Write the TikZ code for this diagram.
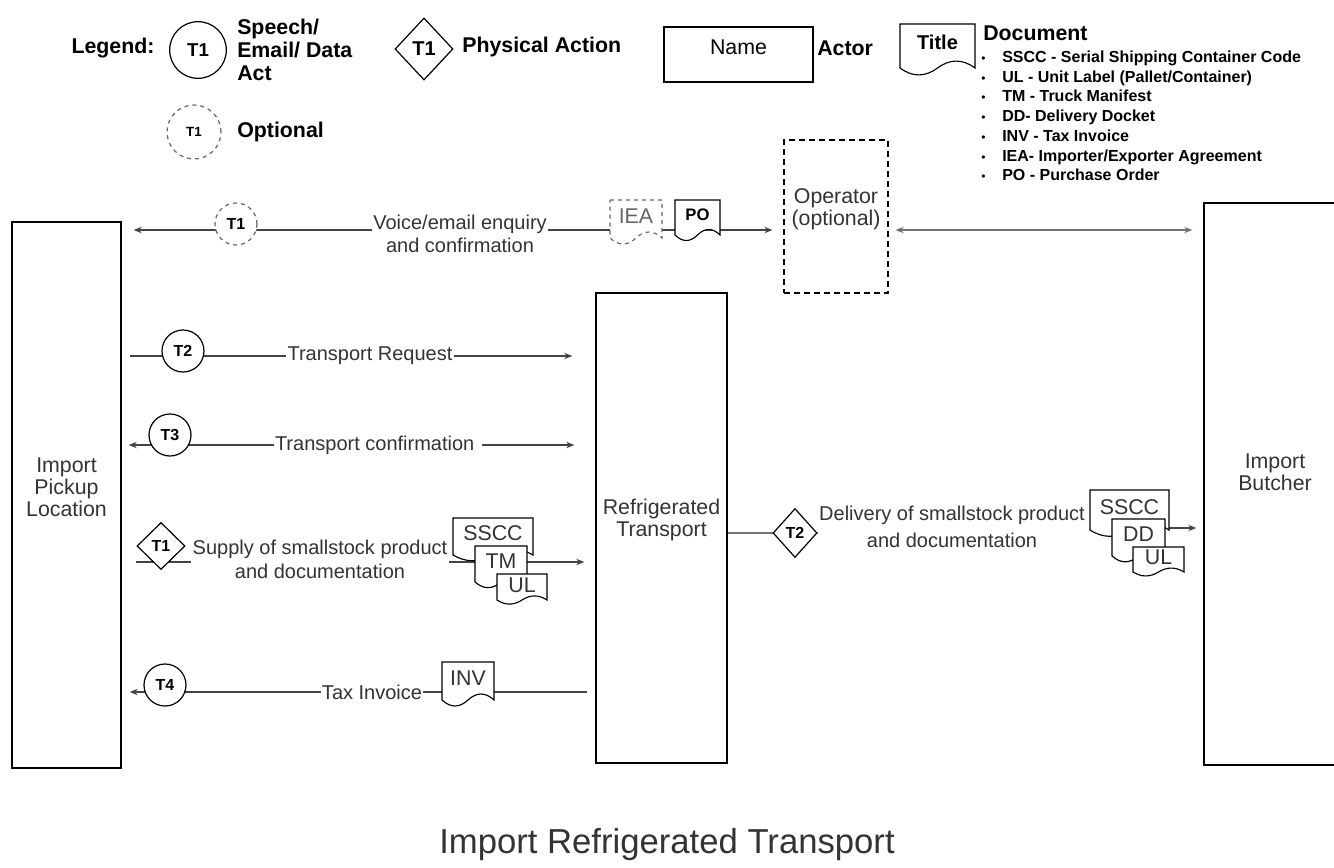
\documentclass[tikz,border=0pt]{standalone}
\usepackage{fontspec}
\setmainfont{Liberation Sans}
\usetikzlibrary{shapes.geometric,arrows.meta,calc,fit,backgrounds}
\definecolor{txt}{HTML}{333333}
\definecolor{lnc}{HTML}{444444}
\definecolor{dsh}{HTML}{666666}
\newcommand\fsz[2]{\fontsize{#1}{#2}\selectfont}
% [outline opts]{name}{x1}{top}{x2}{side end}{text opts}{text}
\newcommand\docnode[8][]{%
  \path[docline,#1] (#3,#4) -- (#5,#4) -- (#5,#6)
    .. controls ({#5-(#5-#3)/6},{#6-0.21*(#6-#4)}) and ({#3+2*(#5-#3)/3},{#6-0.21*(#6-#4)}) .. ({(#3+#5)/2},#6)
    .. controls ({(#3+#5)/2-(#5-#3)/6},{#6+0.21*(#6-#4)}) and ({#3+(#5-#3)/6},{#6+0.21*(#6-#4)}) .. (#3,#6) -- cycle;
  \node[docframe, fit={(#3,#4)(#5,#6)}] (#2) {};
  \node[doctext,#7] (#2-t) at ($(#2.north)!0.42!(#2.south)$) {#8};
}
\begin{document}
\begin{tikzpicture}[x=0.75pt,y=-0.75pt,
  >={Stealth[length=6pt,width=4.8pt]},
  every node/.style={text=txt},
  lbl/.style={font=\fsz{15}{17}, fill=white, inner sep=1pt, align=center},
  actor/.style={draw=black, line width=1.1pt, inner sep=0pt, align=center, font=\fsz{16}{16.5}},
  actortext/.style={align=center, font=\fsz{16}{16.5}, inner sep=0pt},
  conn/.style={draw=lnc, line width=0.85pt},
  speech/.style={circle, draw=black, line width=0.9pt, fill=white, inner sep=0pt, minimum size=31.5pt, text=black, font=\bfseries\fsz{12}{12}},
  optspeech/.style={speech, draw=dsh, dash pattern=on 3pt off 3pt},
  phys/.style={diamond, draw=black, line width=0.9pt, fill=white, inner sep=0pt, text=black, font=\bfseries\fsz{12}{12}},
  docline/.style={draw=black, line width=0.85pt, fill=white},
  docframe/.style={inner sep=0pt, draw=none},
  doctext/.style={inner sep=0pt, font=\fsz{16}{16}},
  legtext/.style={text=black, font=\bfseries\fsz{16}{17}, inner sep=0pt},
  listitem/.style={text=black, font=\bfseries\fsz{12}{12}, inner sep=0pt, anchor=base west},
]
\useasboundingbox (0,0) rectangle (1334,867);
\clip (0,0) rectangle (1334,867);

% ---------- legend ----------
\node[legtext] (legend) at (113,48) {Legend:};
\node[speech, minimum size=42.5pt, font=\bfseries\fsz{14}{14}] (legc) at (198,50) {T1};
\node[legtext, align=left, anchor=west] (legct) at (237,50) {Speech/\\Email/ Data\\Act};
\node[phys, minimum width=43.5pt, minimum height=46.5pt, font=\bfseries\fsz{15}{15}] (legd) at (424,49) {T1};
\node[legtext, anchor=west] (legdt) at (462,47) {Physical Action};
\node[draw=black, line width=0.9pt, inner sep=0pt, fit={(664,27)(813,82)}, font=\fsz{16}{16}, text=black] (legn) {Name};
\node[legtext, anchor=west] (legnt) at (817,48) {Actor};
\docnode{legdoc}{900}{24}{975}{68}{font=\bfseries\fsz{15}{15}, text=black}{Title}
\node[legtext, anchor=west] (legdoct) at (983,33) {Document};
\foreach \itm [count=\i] in {SSCC - Serial Shipping Container Code, UL - Unit Label (Pallet/Container), TM - Truck Manifest, DD- Delivery Docket, INV - Tax Invoice, IEA- Importer/Exporter Agreement, PO - Purchase Order}
  \node[listitem] (li\i) at (981,{62.5+19.7*(\i-1)}) {\makebox[15.75pt][l]{\normalfont\fsz{9}{9}\textbullet}\itm};
\node[optspeech, minimum size=40.5pt, font=\bfseries\fsz{10}{10}] (lego) at (194,132) {T1};
\node[legtext, anchor=west] (legot) at (237,132) {Optional};

% ---------- actors ----------
\node[actor, fit={(12,222)(121,768)}] (ipl) {Import\\Pickup\\Location};
\node[actor, fit={(596,293)(727,763)}] (rt) {Refrigerated\\Transport};
\node[actor, fit={(1204,203)(1350,765)}] (ib) {};
\node[actortext] (ibt) at (1275,472) {Import\\Butcher};
\node[actor, line width=0.9pt, dash pattern=on 4.5pt off 3pt, fit={(784,140)(888,293)}] (op) {Operator\\(optional)};

% ---------- row coordinates ----------
\coordinate (y1) at (0,230);
\coordinate (y2) at (0,356);
\coordinate (y3) at (0,445);
\coordinate (y4) at (0,562);
\coordinate (y5) at (0,533);
\coordinate (y5b) at (0,528);
\coordinate (y6) at (0,692);

% ---------- row 1 ----------
\node[lbl] (voice) at (460,234) {Voice/email enquiry\\and confirmation};
\node[optspeech] (t1) at (236,224) {T1};
\docnode[dash pattern=on 3pt off 3pt, draw=dsh]{iea}{610}{200}{662}{238}{text=dsh, font=\fsz{16}{16}}{IEA}
\docnode{po}{675}{200}{720}{235}{font=\bfseries\fsz{12.5}{12.5}, text=black}{PO}

% ---------- row 2 ----------
\node[lbl] (req) at (370,356) {Transport Request};
\node[speech] (t2) at (183,351) {T2};

% ---------- row 3 ----------
\node[lbl] (conf) at (378,445) {Transport confirmation\hspace{5pt}};
\node[speech] (t3) at (170,435) {T3};

% ---------- row 4 ----------
\node[lbl, font=\fsz{15}{18}] (supply) at (320,559) {Supply of smallstock product\\and documentation};
\node[phys, minimum width=36pt, minimum height=35.25pt] (d1) at (161,546) {T1};
\docnode{sscc1}{453}{518}{533}{555}{}{SSCC}
\docnode{tm}{475}{546}{527}{582}{}{TM}
\docnode{ul1}{497}{574}{547}{600}{}{UL}

% ---------- row 5 ----------
\node[lbl, font=\fsz{15}{20}] (deliv) at (952,527) {Delivery of smallstock product\\and documentation};
\node[phys, minimum width=33pt, minimum height=36.75pt] (d2) at (795,533) {T2};
\docnode{sscc2}{1090}{490}{1169}{530}{}{SSCC}
\docnode{dd}{1112}{519}{1165}{556}{}{DD}
\docnode{ul2}{1133}{547}{1184}{572}{}{UL}

% ---------- row 6 ----------
\node[lbl] (tax) at (372,692) {Tax Invoice};
\node[speech] (t4) at (165,685) {T4};
\docnode{inv}{442}{662}{494}{700}{}{INV}

% ---------- title ----------
\node[font=\fsz{26}{30}] (title) at (667,845) {Import Refrigerated Transport};

% ---------- connectors ----------
\begin{scope}[on background layer]
  \draw[conn,<->, shorten <=9pt, shorten >=8.25pt] (ipl.east |- y1) -- (op.west |- y1);
  \draw[conn, draw=black!55, line width=1.8pt, <->, shorten <=5.25pt, shorten >=8.25pt] (op.east |- y1) -- (ib.west |- y1);
  \draw[conn,->, shorten <=6pt, shorten >=17.25pt] (ipl.east |- y2) -- (rt.west |- y2);
  \draw[conn,<->, shorten <=5.25pt, shorten >=15.75pt] (ipl.east |- y3) -- (rt.west |- y3);
  \draw[conn,->, shorten >=8.25pt] (d1.west |- y4) -- (rt.west |- y4);
  \draw[conn, draw=black!55] (rt.east |- y5) -- (deliv.west |- y5);
  \draw[conn,->, shorten >=5.25pt] (dd.east |- y5b) -- (ib.west |- y5b);
  \draw[conn,<-, shorten <=6pt, shorten >=6pt] (ipl.east |- y6) -- (rt.west |- y6);
\end{scope}
\end{tikzpicture}
\end{document}
